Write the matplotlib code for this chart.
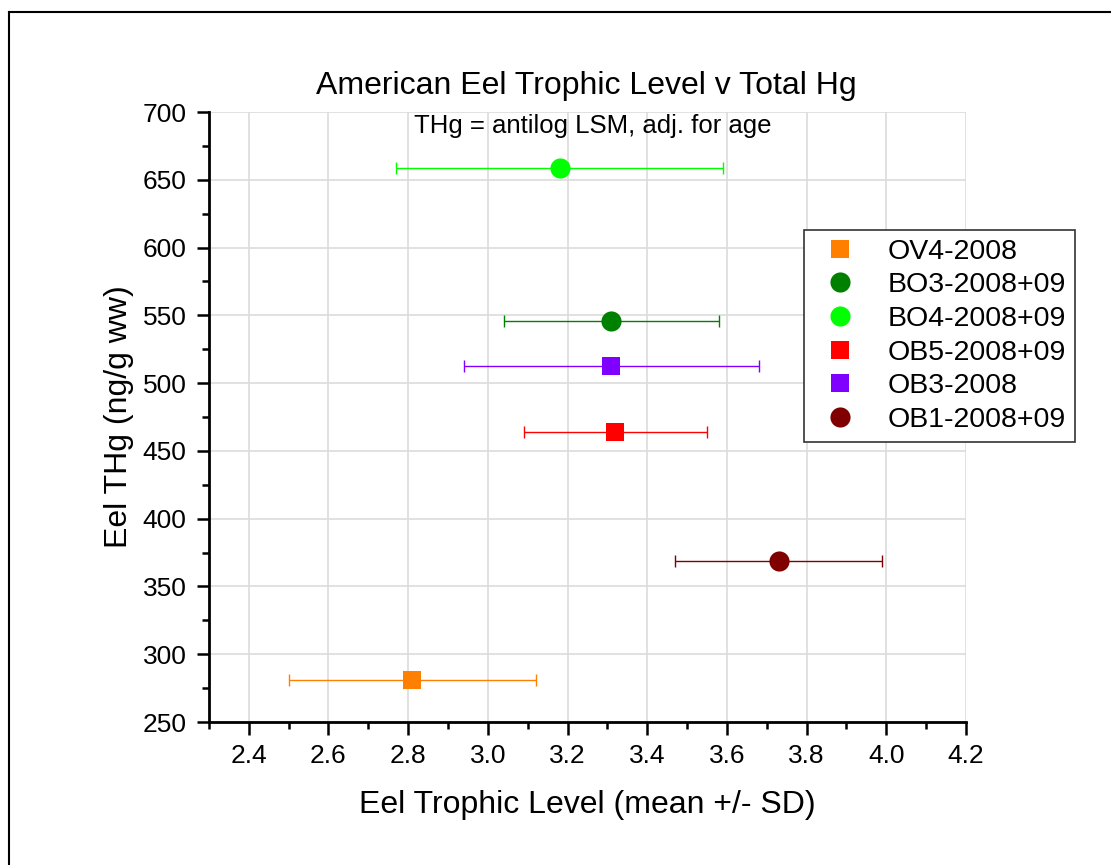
import matplotlib.pyplot as plt
from matplotlib.lines import Line2D

plt.rcParams['font.family'] = ['Liberation Sans', 'DejaVu Sans']

# Eel data: trophic level mean +/- SD vs THg
sites = ['OV4-2008', 'BO3-2008+09', 'BO4-2008+09', 'OB5-2008+09', 'OB3-2008', 'OB1-2008+09']
tl_mean = [2.81, 3.31, 3.18, 3.32, 3.31, 3.73]
tl_lo = [2.50, 3.04, 2.77, 3.09, 2.94, 3.47]
tl_hi = [3.12, 3.58, 3.59, 3.55, 3.68, 3.99]
thg = [281, 546, 659, 464, 513, 369]
colors = ['#FF8000', '#008000', '#00FF00', '#FF0000', '#8000FF', '#800000']
markers = ['s', 'o', 'o', 's', 's', 'o']

fig = plt.figure(figsize=(11.11, 8.65), dpi=100)
ax = fig.add_axes([0.188, 0.1653, 0.6815, 0.7052])

for i in range(len(sites)):
    xerr = [[tl_mean[i] - tl_lo[i]], [tl_hi[i] - tl_mean[i]]]
    ax.errorbar([tl_mean[i]], [thg[i]], xerr=xerr, fmt='none', ecolor=colors[i],
                elinewidth=1.0, capsize=4.5, capthick=1.0, zorder=3)
    ms = 14.5 if markers[i] == 'o' else 12.5
    ax.plot([tl_mean[i]], [thg[i]], ls='none', marker=markers[i], color=colors[i],
            ms=ms, mew=0, label=sites[i], zorder=4)

ax.set_xlim(2.3, 4.2)
ax.set_ylim(250, 700)
ax.set_xticks([2.4, 2.6, 2.8, 3.0, 3.2, 3.4, 3.6, 3.8, 4.0, 4.2])
ax.set_xticks([2.3, 2.5, 2.7, 2.9, 3.1, 3.3, 3.5, 3.7, 3.9, 4.1], minor=True)
ax.set_yticks(range(250, 701, 50))
ax.set_yticks(range(275, 700, 50), minor=True)
ax.xaxis.set_major_formatter(plt.FormatStrFormatter('%.1f'))
ax.grid(True, which='major', color='#dcdcdc', lw=1.2, zorder=0)
ax.set_axisbelow(True)

for s in ['top', 'right']:
    ax.spines[s].set_visible(False)
for s in ['left', 'bottom']:
    ax.spines[s].set_linewidth(2)
ax.tick_params(which='major', direction='out', length=9, width=1.8, labelsize=19, pad=7)
ax.tick_params(which='minor', direction='out', length=5, width=1.8)

ax.set_xlabel('Eel Trophic Level (mean +/- SD)', fontsize=23, labelpad=16)
ax.set_ylabel('Eel THg (ng/g ww)', fontsize=23, labelpad=6)
fig.text(0.528, 1 - 86 / 865, 'American Eel Trophic Level v Total Hg', fontsize=23,
         ha='center', va='center')
fig.text(0.5335, 1 - 126 / 865, 'THg = antilog LSM, adj. for age', fontsize=18.5,
         ha='center', va='center')

handles = [Line2D([], [], ls='none', marker=markers[i], color=colors[i],
                  ms=(14.5 if markers[i] == 'o' else 12.5), mew=0) for i in range(len(sites))]
leg = fig.legend(handles, sites, loc='upper left',
                 bbox_to_anchor=(804 / 1111, 1 - 230 / 865), fontsize=20.5,
                 fancybox=False, framealpha=1, edgecolor='#333333',
                 handlelength=1.9, handletextpad=0.75, borderpad=0.3,
                 labelspacing=0.27, borderaxespad=0)
leg.get_frame().set_linewidth(1.2)

# outer frame (top and left edges visible)
fig.add_artist(Line2D([8.5 / 1111, 1.01], [1 - 11.5 / 865, 1 - 11.5 / 865],
                      transform=fig.transFigure, color='black', lw=1.5))
fig.add_artist(Line2D([8.5 / 1111, 8.5 / 1111], [-0.01, 1 - 11.5 / 865],
                      transform=fig.transFigure, color='black', lw=1.5))

fig.savefig('out.png', dpi=100)
